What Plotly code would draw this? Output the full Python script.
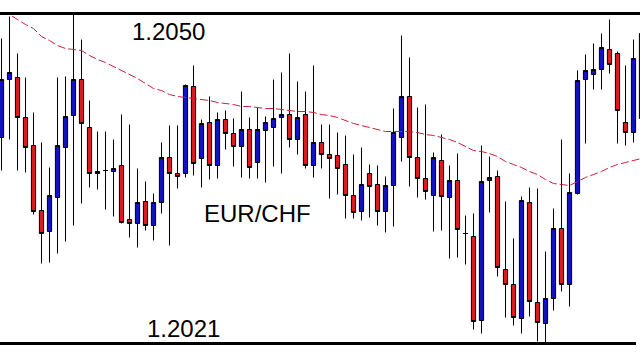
import plotly.graph_objects as go

# Prices in points (1 point = 0.00001)
open_pts = [120413, 120471, 120473, 120433, 120405, 120340, 120319, 120353, 120403, 120435,
            120471, 120423, 120377, 120380, 120379, 120385, 120331, 120327, 120349, 120325,
            120348, 120393, 120377, 120377, 120464, 120392, 120428, 120385, 120431, 120417,
            120404, 120421, 120388, 120420, 120423, 120433, 120436, 120411, 120436, 120385,
            120408, 120396, 120395, 120386, 120355, 120339, 120377, 120366, 120339, 120365,
            120413, 120454, 120393, 120372, 120355, 120390, 120353, 120370, 120317, 120314,
            120230, 120370, 120374, 120281, 120266, 120232, 120348, 120248, 120227, 120252,
            120322, 120266, 120357, 120471, 120476, 120481, 120501, 120497, 120428, 120418, 120432]
high_pts = [120512, 120534, 120497, 120473, 120438, 120408, 120383, 120473, 120474, 120537,
            120511, 120450, 120419, 120419, 120411, 120436, 120426, 120382, 120369, 120357,
            120408, 120425, 120425, 120466, 120485, 120431, 120454, 120438, 120440, 120432,
            120459, 120433, 120443, 120434, 120471, 120478, 120497, 120469, 120459, 120485,
            120426, 120426, 120418, 120415, 120396, 120403, 120386, 120385, 120374, 120442,
            120515, 120493, 120443, 120446, 120398, 120416, 120385, 120397, 120335, 120337,
            120405, 120394, 120380, 120349, 120312, 120354, 120363, 120362, 120299, 120342,
            120411, 120377, 120480, 120496, 120507, 120517, 120531, 120499, 120485, 120511, 120520]
low_pts = [120380, 120411, 120380, 120378, 120336, 120287, 120288, 120297, 120309, 120325,
           120347, 120363, 120361, 120341, 120334, 120327, 120313, 120303, 120320, 120310,
           120337, 120305, 120362, 120373, 120375, 120363, 120371, 120372, 120401, 120384,
           120373, 120372, 120372, 120368, 120384, 120377, 120403, 120396, 120382, 120373,
           120382, 120352, 120356, 120332, 120332, 120330, 120333, 120325, 120318, 120324,
           120389, 120364, 120353, 120351, 120319, 120320, 120292, 120293, 120286, 120221,
           120217, 120338, 120274, 120233, 120225, 120217, 120234, 120209, 120207, 120240,
           120259, 120244, 120356, 120407, 120461, 120461, 120477, 120407, 120405, 120408, 120430]
close_pts = [120471, 120478, 120433, 120403, 120339, 120317, 120355, 120405, 120434, 120471,
             120427, 120377, 120379, 120380, 120382, 120328, 120327, 120348, 120325, 120348,
             120393, 120377, 120374, 120465, 120387, 120427, 120385, 120431, 120417, 120404,
             120421, 120383, 120421, 120428, 120432, 120436, 120411, 120433, 120385, 120408,
             120396, 120392, 120382, 120355, 120338, 120366, 120364, 120339, 120365, 120418,
             120454, 120393, 120372, 120359, 120393, 120354, 120370, 120321, 120317, 120229,
             120369, 120373, 120283, 120266, 120233, 120350, 120249, 120228, 120252, 120322,
             120266, 120358, 120470, 120480, 120481, 120503, 120486, 120440, 120418, 120492, 120517]
ma_pts = [120538, 120536, 120531, 120526, 120522, 120514, 120510, 120505, 120502, 120501,
          120500, 120495, 120491, 120488, 120484, 120480, 120476, 120472, 120467, 120462,
          120460, 120456, 120454, 120453, 120452, 120451, 120450, 120448, 120447, 120446,
          120444, 120444, 120443, 120442, 120442, 120441, 120440, 120439, 120439, 120438,
          120436, 120435, 120433, 120430, 120427, 120425, 120423, 120421, 120419, 120419,
          120419, 120419, 120418, 120416, 120415, 120413, 120411, 120408, 120404, 120400,
          120399, 120397, 120394, 120389, 120386, 120383, 120379, 120376, 120371, 120367,
          120366, 120365, 120369, 120373, 120376, 120379, 120383, 120386, 120388, 120390, 120392]

top_label = "1.2050"
bottom_label = "1.2021"
pair_label = "EUR/CHF"

n = len(open_pts)
assert all(len(a) == n for a in (high_pts, low_pts, close_pts, ma_pts))
x = list(range(n))
S = 1e-5
o = [v * S for v in open_pts]
h = [v * S for v in high_pts]
l = [v * S for v in low_pts]
c = [v * S for v in close_pts]
ma = [v * S for v in ma_pts]

fig = go.Figure()
fig.add_trace(go.Candlestick(
    x=x, open=o, high=h, low=l, close=c,
    increasing=dict(fillcolor="#1212C4", line=dict(color="black", width=1)),
    decreasing=dict(fillcolor="#DE1A1A", line=dict(color="black", width=1)),
    whiskerwidth=0, hoverinfo="skip", showlegend=False,
))
fig.add_trace(go.Scatter(
    x=x, y=ma, mode="lines",
    line=dict(color="#CC1F3A", width=1, dash="8px,3px"),
    hoverinfo="skip", showlegend=False,
))

font = dict(family="Liberation Sans, Arial, sans-serif", size=24, color="black")
fig.add_annotation(text=top_label, xref="paper", yref="paper", x=0.2625, y=1 - 31 / 360,
                   xanchor="center", yanchor="middle", showarrow=False, font=font)
fig.add_annotation(text=bottom_label, xref="paper", yref="paper", x=0.286, y=1 - 328 / 360,
                   xanchor="center", yanchor="middle", showarrow=False, font=font)
fig.add_annotation(text=pair_label, xref="paper", yref="paper", x=0.4016, y=1 - 213 / 360,
                   xanchor="center", yanchor="middle", showarrow=False, font=font)

fig.add_shape(type="line", xref="paper", yref="paper", x0=0, x1=1,
              y0=1 - 13.5 / 360, y1=1 - 13.5 / 360, line=dict(color="black", width=3), layer="above")
fig.add_shape(type="line", xref="paper", yref="paper", x0=0, x1=636 / 640,
              y0=1 - 343.5 / 360, y1=1 - 343.5 / 360, line=dict(color="black", width=3), layer="above")

fig.update_layout(
    width=640, height=360, margin=dict(l=0, r=0, t=0, b=0),
    paper_bgcolor="white", plot_bgcolor="white",
    boxgap=0.25,
    xaxis=dict(range=[-0.1875, 79.8125], visible=False, rangeslider=dict(visible=False), fixedrange=True),
    yaxis=dict(range=[1.201905, 1.205505], visible=False, fixedrange=True),
)
fig.write_html("out.html")
